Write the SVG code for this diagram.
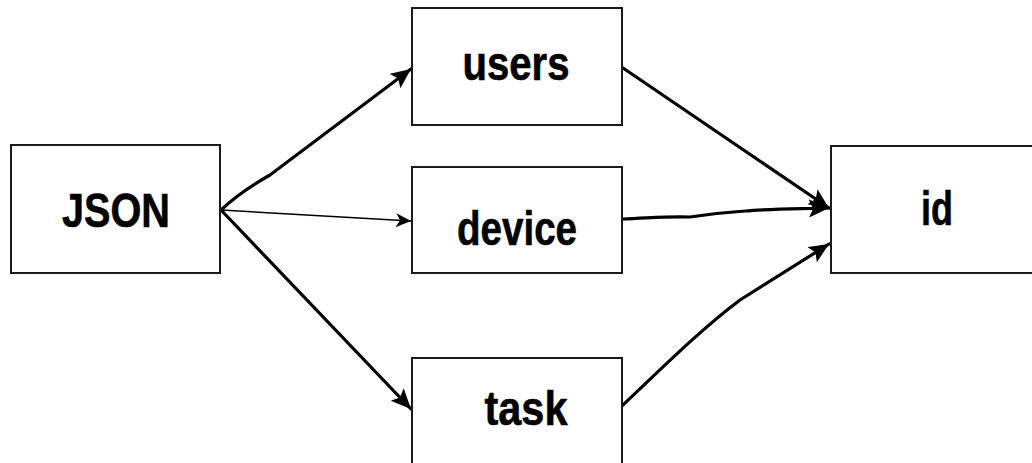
<svg xmlns="http://www.w3.org/2000/svg" width="1032" height="463" viewBox="0 0 1032 463">
<defs>
<style>
.box{fill:#fff;stroke:#1a1a1a;stroke-width:2}
.lbl{font-family:"Liberation Sans",Arial,sans-serif;font-weight:bold;font-size:48px;fill:#000;text-anchor:middle;stroke:#000;stroke-width:0.6}
.thick{fill:none;stroke:#000;stroke-width:3.2;stroke-linecap:round}
.thin{fill:none;stroke:#000;stroke-width:1.5}
</style>
<marker id="ah" markerUnits="userSpaceOnUse" markerWidth="24" markerHeight="20" refX="20" refY="9" orient="auto">
<path d="M0,0 L20,9 L0,18 L4,9 Z" fill="#000"/>
</marker>
<marker id="ahs" markerUnits="userSpaceOnUse" markerWidth="18" markerHeight="16" refX="15" refY="7" orient="auto">
<path d="M0,0 L15,7 L0,14 L4,7 Z" fill="#000"/>
</marker>
</defs>
<rect width="1032" height="463" fill="#fff"/>
<g id="connectors">
<path class="thick" d="M221,210 Q240,192 270,175 L411,69" marker-end="url(#ah)"/>
<path class="thin" d="M221,210 L411,221" marker-end="url(#ahs)"/>
<path class="thick" d="M221,210 L411,409" marker-end="url(#ah)"/>
<path class="thick" d="M623,68 L829,208" marker-end="url(#ah)"/>
<path class="thick" d="M623,219 C650,218 670,216 690,217 C710,214 730,212 745,211 C765,209 790,209 829,208" marker-end="url(#ah)"/>
<path class="thick" d="M623,405 C660,370 700,330 740,300 L829,244" marker-end="url(#ah)"/>
</g>
<g id="json">
<rect class="box" x="11" y="145" width="209" height="128"/>
<text class="lbl" x="116" y="227" textLength="108" lengthAdjust="spacingAndGlyphs">JSON</text>
</g>
<g id="users">
<rect class="box" x="412" y="8" width="210" height="117"/>
<text class="lbl" x="516" y="80" textLength="107" lengthAdjust="spacingAndGlyphs">users</text>
</g>
<g id="device">
<rect class="box" x="412" y="167" width="210" height="106"/>
<text class="lbl" x="517" y="245" textLength="120" lengthAdjust="spacingAndGlyphs">device</text>
</g>
<g id="task">
<rect class="box" x="412" y="358" width="210" height="120"/>
<text class="lbl" x="526" y="425" textLength="83" lengthAdjust="spacingAndGlyphs">task</text>
</g>
<g id="id">
<rect class="box" x="831" y="146" width="220" height="127"/>
<text class="lbl" x="937" y="225" textLength="32" lengthAdjust="spacingAndGlyphs">id</text>
</g>
</svg>
